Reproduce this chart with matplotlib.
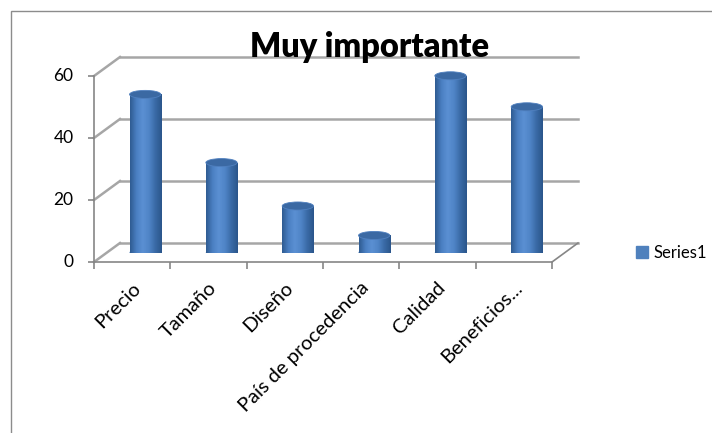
import numpy as np
import matplotlib
matplotlib.use("Agg")
import matplotlib.pyplot as plt
from matplotlib.patches import Ellipse, Rectangle, Patch
from matplotlib.colors import LinearSegmentedColormap

plt.rcParams['font.family'] = ['Lato', 'DejaVu Sans']

categories = ["Precio", "Tamaño", "Diseño", "País de procedencia", "Calidad", "Beneficios..."]
values = [51, 29, 15, 5.5, 57, 47]
yticks = [0, 20, 40, 60]
series_name = "Series1"

# depth offsets of the fake 3D box, in data units (half depth)
DX = 0.17
DY = 3.06
grid_col = "#a6a6a6"
axis_col = "#868686"

fig = plt.figure(figsize=(7.12, 4.33), dpi=100)
ax = fig.add_axes([107 / 712, 1 - 252.5 / 433, 458 / 712, 186 / 433])
ax.axis("off")

x0, x1 = -0.5, len(categories) - 0.5

# back wall gridlines + left wall diagonals
for y in yticks:
    ax.plot([x0 + DX, x1 + DX], [y + DY, y + DY], color=grid_col, lw=1.8, clip_on=False, zorder=1)
    ax.plot([x0 - DX, x0 + DX], [y - DY, y + DY], color=grid_col, lw=1.8, clip_on=False, zorder=1)
# floor front edge and right edge
ax.plot([x0 - DX, x1 - DX], [-DY, -DY], color=axis_col, lw=1.2, clip_on=False, zorder=1)
ax.plot([x1 - DX, x1 + DX], [-DY, DY], color=axis_col, lw=1.2, clip_on=False, zorder=1)
# vertical value axis at front
ax.plot([x0 - DX, x0 - DX], [-DY, 60 - DY], color=axis_col, lw=1.2, clip_on=False, zorder=1)
ax.plot([x0 - DX] * len(yticks), [y - DY for y in yticks], ls="none", marker=0,
        ms=4, mec=axis_col, mew=1.2, clip_on=False)
ax.plot([x0 - DX + i for i in range(len(categories) + 1)], [-DY] * (len(categories) + 1),
        ls="none", marker=3, ms=5, mec=axis_col, mew=1.2, clip_on=False)

for y in yticks:
    ax.text(x0 - DX - 0.27, y - DY, str(y), ha="right", va="center", fontsize=12.5, clip_on=False)

for i, lab in enumerate(categories):
    ax.text(i - DX - 0.01, -DY - 5.5, lab, rotation=45, rotation_mode="anchor",
            ha="right", va="top", fontsize=14.5)

# cylinders
w = 0.41
eh = 2.6
cyl = LinearSegmentedColormap.from_list("cyl", ["#2f5c92", "#4a7fc2", "#5b90d3", "#4f84c6", "#3a6aa6", "#2b568b"])
grad = np.linspace(0, 1, 64).reshape(1, -1)
bars = ax.bar(range(len(categories)), values, width=w, color="#4f81bd", zorder=3)
for i, (b, v) in enumerate(zip(bars, values)):
    ax.add_patch(Ellipse((i, 0), w, eh, facecolor="#4576b3", edgecolor="none", zorder=2.9))
    im = ax.imshow(grad, cmap=cyl, extent=(i - w / 2, i + w / 2, 0, v), aspect="auto", zorder=3.1)
    im.set_clip_path(b)
    ax.add_patch(Ellipse((i, v), w, eh, facecolor="#3b69a3", edgecolor="#5080bf", lw=0.6, zorder=4))

ax.set_xlim(x0, x1)
ax.set_ylim(0, 60)

fig.text(370 / 712, 1 - 47 / 433, "Muy importante", ha="center", va="center",
         fontsize=23.5, fontweight="heavy")

fig.legend(handles=[Patch(color="#4f81bd")], labels=[series_name], loc="center left",
           bbox_to_anchor=(621 / 712, 1 - 253 / 433), frameon=False, fontsize=12,
           handlelength=0.7, handleheight=0.7, handletextpad=0.35)

fig.add_artist(Rectangle((11 / 712, -0.1), 1.2, 1 - 11 / 433 + 0.1, transform=fig.transFigure,
                         fill=False, edgecolor="#8c8c8c", lw=1))

fig.savefig("out.png", dpi=100)
